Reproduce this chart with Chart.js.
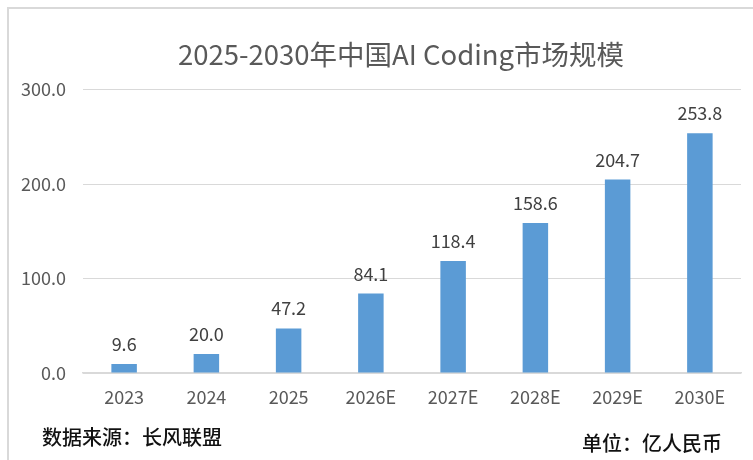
<!DOCTYPE html>
<html>
<head>
<meta charset="utf-8">
<script src="https://cdn.jsdelivr.net/npm/chart.js@4.4.1/dist/chart.umd.min.js"></script>
<style>
  html, body { margin: 0; padding: 0; background: #fff; }
  #wrap { position: relative; width: 753px; height: 460px; overflow: hidden; }
  #frame { position: absolute; left: 7px; top: 7px; width: 800px; height: 500px; border-left: 2px solid #d9d9d9; border-top: 2px solid #d9d9d9; }
  canvas { position: absolute; left: 0; top: 0; }
  .note { position: absolute; font-family: "Noto Sans CJK SC", sans-serif; font-size: 20px; color: #111; font-weight: 500; line-height: 1; white-space: nowrap; }
</style>
</head>
<body>
<div id="wrap">
  <div id="frame"></div>
  <canvas id="c" width="753" height="460"></canvas>
  <div class="note" style="left:42px; top:427px;">数据来源：长风联盟</div>
  <div class="note" style="left:582px; top:433px;">单位：亿人民币</div>
</div>
<script>
// 年份
const years = ["2023", "2024", "2025", "2026E", "2027E", "2028E", "2029E", "2030E"];
// 市场规模（亿人民币）
const marketSize = [9.6, 20.0, 47.2, 84.1, 118.4, 158.6, 204.7, 253.8];
const yTicks = [0, 100, 200, 300];
const titleText = "2025-2030年中国AI Coding市场规模";

const FONT = "'Noto Sans CJK SC', sans-serif";

// title is centred on the whole frame, not the chart area
const titleAndLabels = {
  id: "titleAndLabels",
  afterDatasetsDraw(chart) {
    const ctx = chart.ctx;
    ctx.save();
    ctx.font = "27.5px " + FONT;
    ctx.fillStyle = "#595959";
    ctx.textAlign = "center";
    ctx.textBaseline = "middle";
    ctx.fillText(titleText, 401, 55);

    const meta = chart.getDatasetMeta(0);
    ctx.font = "18px " + FONT;
    ctx.fillStyle = "#404040";
    ctx.textBaseline = "alphabetic";
    meta.data.forEach((bar, i) => {
      ctx.fillText(marketSize[i].toFixed(1), bar.x, bar.y - 13);
    });
    ctx.restore();
  }
};

new Chart(document.getElementById("c"), {
  type: "bar",
  data: {
    labels: years,
    datasets: [{ data: marketSize, backgroundColor: "#5b9bd5", categoryPercentage: 1, barPercentage: 0.31 }]
  },
  options: {
    responsive: false,
    animation: false,
    layout: { padding: { left: 0, right: 12, top: 89.5, bottom: 0 } },
    plugins: {
      legend: { display: false },
      tooltip: { enabled: false },
      title: { display: false }
    },
    scales: {
      x: {
        grid: { display: false, drawTicks: false },
        border: { color: "#d9d9d9", width: 1.5 },
        ticks: { color: "#595959", font: { family: FONT, size: 18 }, padding: 13, maxRotation: 0 },
        afterFit(s) { s.height = 87; }
      },
      y: {
        min: 0,
        max: 300,
        afterBuildTicks(s) { s.ticks = yTicks.map(v => ({ value: v })); },
        grid: { color: "#d9d9d9", drawTicks: false },
        border: { display: false },
        ticks: { color: "#595959", font: { family: FONT, size: 18 }, padding: 17, callback: v => v.toFixed(1) },
        afterFit(s) { s.width = 83; }
      }
    }
  },
  plugins: [titleAndLabels]
});
</script>
</body>
</html>
